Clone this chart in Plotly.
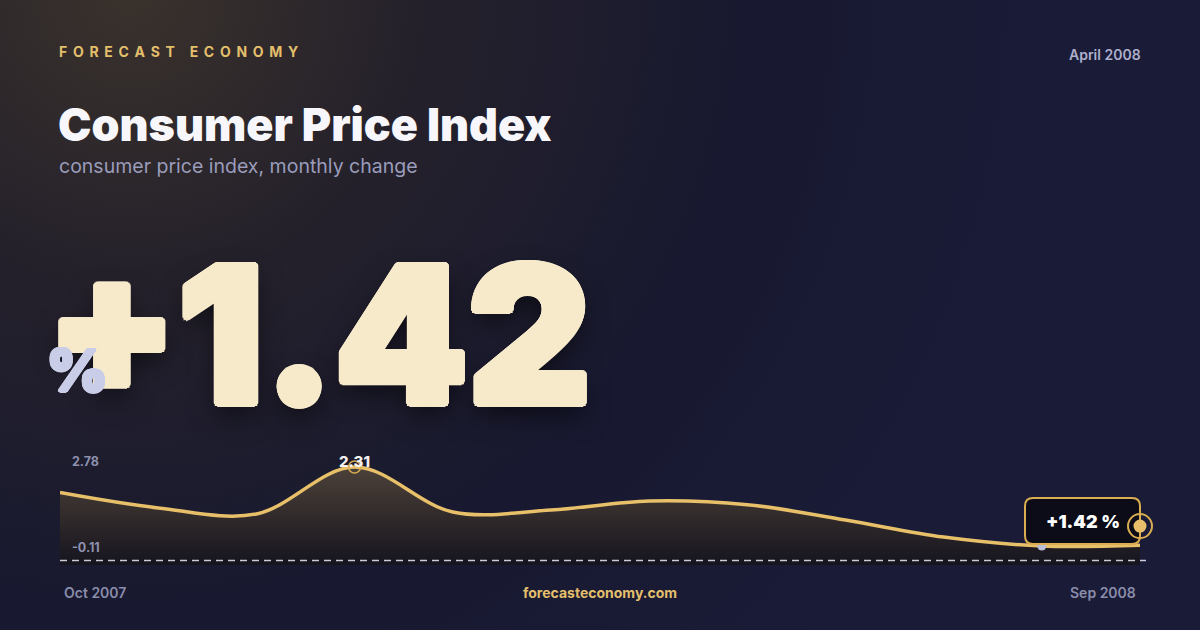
"""Social card: Consumer Price Index, monthly change (Oct 2007 - Sep 2008)."""

import base64
import math

import plotly.graph_objects as go

# --- data -------------------------------------------------------------------
months = [
    "Oct 2007", "Nov 2007", "Dec 2007", "Jan 2008", "Feb 2008", "Mar 2008",
    "Apr 2008", "May 2008", "Jun 2008", "Jul 2008", "Aug 2008", "Sep 2008",
]
cpi_change = [1.68, 1.30, 1.15, 2.31, 1.20, 1.25, 1.47, 1.38, 1.00, 0.58, 0.36, 0.38]
y_range = [-0.11, 2.78]
headline_value = 1.42
badge_level = 0.85  # vertical level of the end badge on the value axis
period_label = "April 2008"

GOLD = "#e8c06a"
MUTED = "#8e91ae"
FONT = "Inter"
X_DOMAIN = [0.05, 0.95]

peak_i = cpi_change.index(max(cpi_change))
low_i = cpi_change.index(min(cpi_change))

# soft warm glow top-left, drawn as an svg background image
bg_svg = (
    "<svg xmlns='http://www.w3.org/2000/svg' width='1200' height='630'>"
    "<defs><radialGradient id='g' cx='130' cy='-10' r='950' gradientUnits='userSpaceOnUse'>"
    "<stop offset='0' stop-color='#3a322c'/>"
    "<stop offset='0.3' stop-color='#25212b'/>"
    "<stop offset='0.65' stop-color='#181930'/>"
    "<stop offset='1' stop-color='#1a1b37'/>"
    "</radialGradient></defs>"
    "<rect width='1200' height='630' fill='url(#g)'/></svg>"
)
bg_uri = "data:image/svg+xml;base64," + base64.b64encode(bg_svg.encode()).decode()


def heavy(color, px, drop=""):
    """text-shadow ring that thickens the glyphs (no heavier face is installed)."""
    ring = []
    for k in range(16):
        a = k * math.pi / 8
        ring.append(f"{px * math.cos(a):.1f}px {px * math.sin(a):.1f}px 0 {color}")
    return ", ".join(ring) + (", " + drop if drop else "")


fig = go.Figure()

# baseline for the area fill
fig.add_trace(go.Scatter(
    x=months, y=[y_range[0]] * len(months),
    mode="lines", line=dict(width=0, color="rgba(0,0,0,0)"),
    hoverinfo="skip", showlegend=False,
))
fig.add_trace(go.Scatter(
    x=months, y=cpi_change,
    mode="lines", line=dict(color=GOLD, width=3.5, shape="spline", smoothing=1),
    fill="tonexty",
    fillgradient=dict(
        type="vertical",
        start=y_range[0], stop=max(cpi_change),
        colorscale=[[0, "#15141f"], [0.55, "#342d2c"], [1, "#4c413a"]],
    ),
    hoverinfo="skip", showlegend=False,
))
# peak marker (hollow)
fig.add_trace(go.Scatter(
    x=[months[peak_i]], y=[cpi_change[peak_i]], mode="markers",
    marker=dict(size=12, color="rgba(0,0,0,0)", line=dict(color="#d9ad50", width=1.5)),
    hoverinfo="skip", showlegend=False,
))
# low marker
fig.add_trace(go.Scatter(
    x=[months[low_i]], y=[cpi_change[low_i]], mode="markers",
    marker=dict(size=9, color="#b9bdd6"),
    hoverinfo="skip", showlegend=False,
))

last_x = len(months) - 1
r = 8  # badge corner radius (px)
box_l, box_r, box_t, box_b = -115, 0, 28, -18
badge_path = (
    f"M {box_l + r},{box_t} L {box_r - r},{box_t} Q {box_r},{box_t} {box_r},{box_t - r} "
    f"L {box_r},{box_b + r} Q {box_r},{box_b} {box_r - r},{box_b} "
    f"L {box_l + r},{box_b} Q {box_l},{box_b} {box_l},{box_b + r} "
    f"L {box_l},{box_t - r} Q {box_l},{box_t} {box_l + r},{box_t} Z"
)

# badge pieces sit on the right edge of the plot; paper x keeps them unclipped
badge = dict(xref="paper", yref="y", xsizemode="pixel", ysizemode="pixel",
             xanchor=X_DOMAIN[1], yanchor=badge_level, layer="above")
shapes = [
    # dashed zero line
    dict(type="line", xref="paper", yref="y", x0=0.05, x1=0.955, y0=0, y1=0,
         line=dict(color="rgba(235,235,245,0.85)", width=1.5, dash="7px,5px")),
    dict(type="path", path=badge_path, fillcolor="#0b0c18",
         line=dict(color="#d9ad50", width=2), **badge),
    dict(type="circle", x0=-12, x1=12, y0=-12, y1=12, fillcolor="rgba(0,0,0,0)",
         line=dict(color="#d9ad50", width=2), **badge),
    dict(type="circle", x0=-6.5, x1=6.5, y0=-6.5, y1=6.5, fillcolor=GOLD,
         line=dict(width=0), **badge),
]


def txt(text, x, y, size, color, weight=400, xanchor="left", **kw):
    return dict(text=text, x=x, y=y, xref="paper", yref="paper", showarrow=False,
                xanchor=xanchor, yanchor="middle",
                font=dict(family=FONT, size=size, color=color, weight=weight, **kw))


gap = "\u2005\u2009"
brand = (gap + gap + " ").join(gap.join(w) for w in "FORECAST ECONOMY".split())
big_color = "#f7eacb"
annotations = [
    txt(brand, 0.0475, 0.9175, 14, "#e3bf6c", 700),
    txt(period_label, 0.9525, 0.914, 14, "#aeb0cc", 600, xanchor="right"),
    txt("Consumer Price Index", 0.0465, 0.8016, 44.8, "#f7f7fb", 900),
    txt("consumer price index, monthly change", 0.0475, 0.7365, 19.5, "#9a9cbb"),
    txt(f"+{headline_value:.2f}", 0.0365, 0.47, 190, big_color, 900,
        shadow=heavy(big_color, 3.5, "0px 12px 26px rgba(0,0,0,0.55)")),
    txt("%", 0.0375, 0.413, 58, "#c9cde8", 900, shadow=heavy("#c9cde8", 1.5)),
    txt(f"{y_range[1]:.2f}", 0.0583, 0.268, 12.5, MUTED, 700),
    txt(f"{y_range[0]:.2f}", 0.0583, 0.1317, 12.5, MUTED, 700),
    txt(months[0], 0.0517, 0.0603, 14, "#8a8dab", 600),
    txt(months[-1], 0.9485, 0.0603, 14, "#8a8dab", 600, xanchor="right"),
    txt("forecasteconomy.com", 0.5, 0.0603, 14, "#e3bf6c", 700, xanchor="center"),
    dict(text=f"{cpi_change[peak_i]:.2f}", x=months[peak_i], y=cpi_change[peak_i],
         xref="x", yref="y", showarrow=False, yshift=6,
         font=dict(family=FONT, size=15, color="#f4f2f0", weight=800)),
    dict(text=f"+{headline_value:.2f} %", x=last_x, y=badge_level, xref="x", yref="y",
         showarrow=False, xshift=-57, yshift=5,
         font=dict(family=FONT, size=18, color="#ffffff", weight=900)),
]

fig.update_layout(
    width=1200, height=630,
    margin=dict(l=0, r=0, t=0, b=0),
    paper_bgcolor="#17182e",
    plot_bgcolor="rgba(0,0,0,0)",
    images=[dict(source=bg_uri, xref="paper", yref="paper", x=0, y=1, sizex=1, sizey=1,
                 xanchor="left", yanchor="top", sizing="stretch", layer="below")],
    xaxis=dict(domain=X_DOMAIN, type="category", range=[0, last_x],
               showgrid=False, zeroline=False, showticklabels=False, fixedrange=True),
    yaxis=dict(domain=[0.1032, 0.2889], range=y_range,
               showgrid=False, zeroline=False, showticklabels=False, fixedrange=True),
    shapes=shapes,
    annotations=annotations,
    hovermode=False,
)

fig.write_html(
    "out.html",
    config={"displayModeBar": False},
    post_script="document.body.style.margin='0';document.body.style.background='#17182e';",
)
